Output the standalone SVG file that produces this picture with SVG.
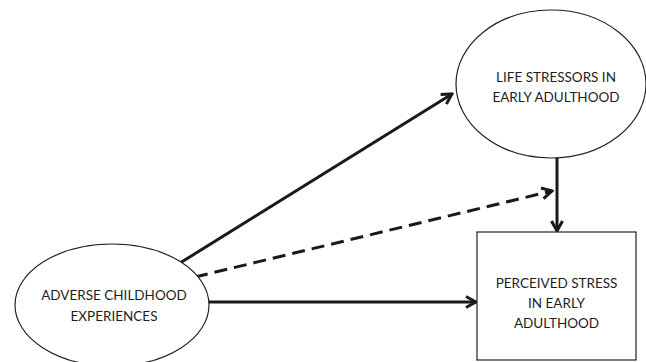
<svg xmlns="http://www.w3.org/2000/svg" width="646" height="362" viewBox="0 0 646 362">
<style>
.node{fill:#fff;stroke:#222;stroke-width:1.2}
.lbl{font-family:Lato,"Liberation Sans",sans-serif;font-size:13.5px;fill:#1e1e1e;text-anchor:middle}
.edge{stroke:#1a1a1a;stroke-width:3;fill:none}
.dash{stroke-dasharray:13 7}
</style>
<defs>
<marker id="arr" markerUnits="userSpaceOnUse" viewBox="0 0 14 14" refX="12" refY="7" markerWidth="14" markerHeight="14" orient="auto">
<path d="M2,1.5 L12,7 L2,12.5" fill="none" stroke="#1a1a1a" stroke-width="3" stroke-linejoin="miter"/>
</marker>
</defs>
<rect width="646" height="362" fill="#fff"/>
<g id="edges">
<line class="edge" x1="180" y1="263" x2="452" y2="94" marker-end="url(#arr)"/>
<line class="edge dash" x1="195" y1="277" x2="552" y2="191" marker-end="url(#arr)"/>
<line class="edge" x1="208" y1="302" x2="476" y2="302" marker-end="url(#arr)"/>
<line class="edge" x1="557" y1="157" x2="557" y2="231" marker-end="url(#arr)"/>
</g>
<g id="adverse">
<ellipse class="node" cx="112" cy="305" rx="97" ry="61"/>
<text class="lbl" x="114" y="300">ADVERSE CHILDHOOD</text>
<text class="lbl" x="114" y="321">EXPERIENCES</text>
</g>
<g id="life">
<ellipse class="node" cx="551" cy="84" rx="95" ry="74"/>
<text class="lbl" x="556" y="82">LIFE STRESSORS IN</text>
<text class="lbl" x="556" y="102">EARLY ADULTHOOD</text>
</g>
<g id="perceived">
<rect class="node" x="477" y="232" width="159" height="128"/>
<text class="lbl" x="556.5" y="288">PERCEIVED STRESS</text>
<text class="lbl" x="556.5" y="308">IN EARLY</text>
<text class="lbl" x="556.5" y="328">ADULTHOOD</text>
</g>
</svg>
